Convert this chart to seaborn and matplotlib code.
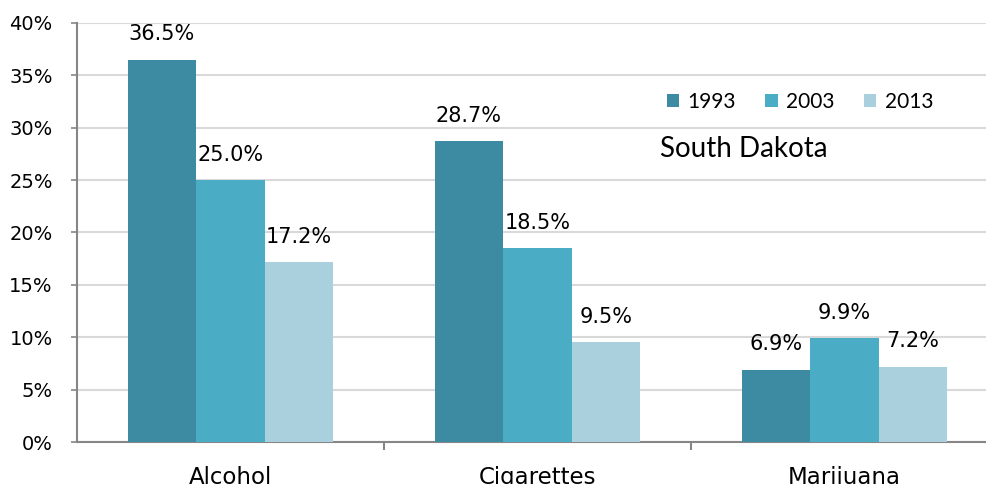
import matplotlib
matplotlib.use("Agg")
import matplotlib.pyplot as plt
import matplotlib.ticker as mticker
import seaborn as sns
import pandas as pd
import numpy as np

# chart data
substances = ["Alcohol", "Cigarettes", "Marijuana"]
years = ["1993", "2003", "2013"]
pct_1993 = [36.5, 28.7, 6.9]
pct_2003 = [25.0, 18.5, 9.9]
pct_2013 = [17.2, 9.5, 7.2]
year_colors = ["#3D8BA3", "#4BACC6", "#AACFDD"]

df = pd.DataFrame({
    "substance": substances * 3,
    "year": [y for y in years for _ in substances],
    "pct": pct_1993 + pct_2003 + pct_2013,
})

sns.set_style("white")
plt.rcParams["font.family"] = ["DejaVu Sans"]
plt.rcParams["text.color"] = "black"
plt.rcParams["xtick.labelcolor"] = "black"
plt.rcParams["ytick.labelcolor"] = "black"

fig = plt.figure(figsize=(9.86, 4.84), dpi=100)
ax = fig.add_axes([77 / 986, 1 - 442 / 484, (998 - 77) / 986, (442 - 23) / 484])

sns.barplot(data=df, x="substance", y="pct", hue="year", palette=year_colors,
            width=0.67, saturation=1, ax=ax, zorder=3, edgecolor="none")

# value labels above each bar
for cont in ax.containers:
    ax.bar_label(cont, fmt="%.1f%%", padding=11, fontsize=15, color="black")

ax.set_ylim(0, 40)
ax.set_xlim(-0.5, 2.5)
ax.yaxis.set_major_locator(mticker.MultipleLocator(5))
ax.yaxis.set_major_formatter(mticker.FuncFormatter(lambda v, p: f"{v:.0f}%"))
ax.yaxis.grid(True, color="#D9D9D9", linewidth=1.5, zorder=0)
ax.set_axisbelow(True)

for s in ["top", "right"]:
    ax.spines[s].set_visible(False)
for s in ["left", "bottom"]:
    ax.spines[s].set_color("#868686")
    ax.spines[s].set_linewidth(1.5)

ax.tick_params(axis="y", which="major", length=4.5, width=1.2, color="#868686",
               pad=13, labelsize=14, left=True)
ax.tick_params(axis="x", which="major", length=0, pad=17, labelsize=16.5)
ax.set_xticks([0.5, 1.5], minor=True)
ax.tick_params(axis="x", which="minor", length=6, width=1.5, color="#868686", bottom=True)
ax.set_xlabel("")
ax.set_ylabel("")

handles, labels = ax.get_legend_handles_labels()
ax.legend(handles, labels, loc="upper left", bbox_to_anchor=(0.62, 0.88), ncol=3,
          frameon=False, prop={"family": "Lato", "size": 15},
          handlelength=0.6, handleheight=0.6, handletextpad=0.4, columnspacing=1.4)

fig.text(660 / 986, 1 - 149 / 484, "South Dakota", fontsize=20, family="Lato",
         va="center", ha="left")

fig.savefig("out.png", dpi=100)
